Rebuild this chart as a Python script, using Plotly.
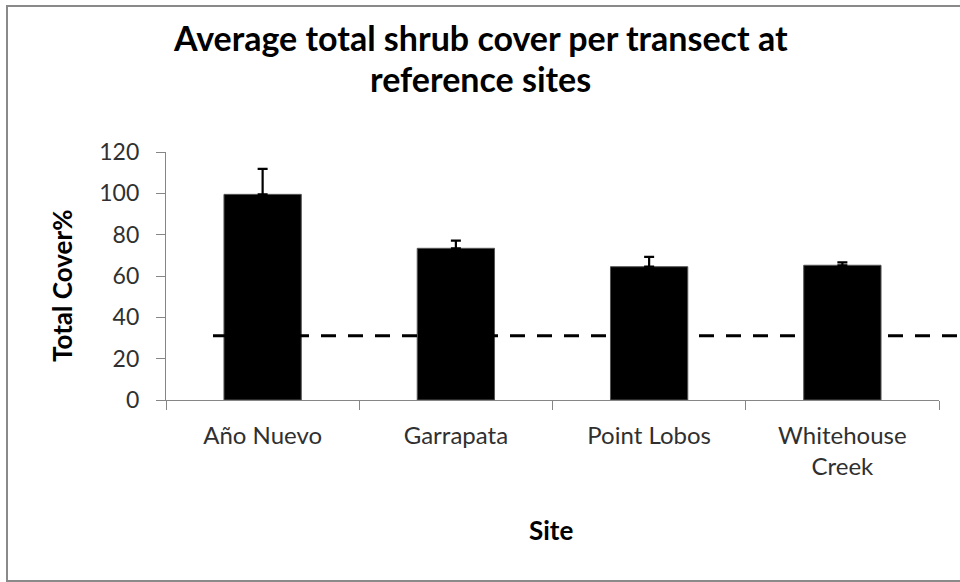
import plotly.graph_objects as go

sites = ["Año Nuevo", "Garrapata", "Point Lobos", "Whitehouse<br>Creek"]
cover = [99.5, 73.4, 64.5, 65.2]
cover_err = [12.3, 3.7, 4.8, 1.4]
reference_level = 31.1
y_ticks = [0, 20, 40, 60, 80, 100, 120]

FONT = "Lato, 'Open Sans', sans-serif"
AXIS_GREY = "#868686"

fig = go.Figure()
fig.add_trace(go.Bar(
    x=sites, y=cover,
    marker=dict(color="black", line=dict(color="#555555", width=1)),
    error_y=dict(type="data", array=cover_err, arrayminus=[0] * len(cover_err),
                 symmetric=False, color="black", thickness=2.2, width=5),
    showlegend=False,
))

fig.update_layout(
    width=960, height=582,
    margin=dict(l=166, r=21, t=152, b=182),
    paper_bgcolor="white", plot_bgcolor="white",
    bargap=0.6,
    font=dict(family=FONT, color="#404040"),
    xaxis=dict(
        type="category", showline=True, linecolor=AXIS_GREY, linewidth=1.3,
        ticks="outside", tickson="boundaries", ticklen=9, tickcolor=AXIS_GREY,
        tickwidth=1.3, tickfont=dict(size=24, color="#303030"),
        ticklabelstandoff=14, showgrid=False, zeroline=False,
    ),
    yaxis=dict(
        range=[0, 120], tickvals=y_ticks, showline=True, linecolor=AXIS_GREY,
        linewidth=1.3, ticks="outside", ticklen=9, tickcolor=AXIS_GREY,
        tickwidth=1.3, tickfont=dict(size=23, color="#303030"),
        ticklabelstandoff=12, showgrid=False, zeroline=False,
    ),
    shapes=[
        dict(type="line", xref="paper", yref="y", x0=0.0608, x1=1.04,
             y0=reference_level, y1=reference_level,
             line=dict(color="black", width=3.2, dash="15px,12px")),
        dict(type="rect", xref="paper", yref="paper", x0=(7 - 166) / 773, x1=1.06,
             y0=(400 - 581) / 248, y1=(400 - 6) / 248,
             line=dict(color="#8a8a8a", width=2),
             fillcolor="rgba(0,0,0,0)", layer="below"),
    ],
    annotations=[
        dict(text="<b>Average total shrub cover per transect at</b>", xref="paper",
             yref="paper", x=(480 - 166) / 773, y=(400 - 37) / 248, showarrow=False,
             xanchor="center", yanchor="middle",
             font=dict(size=34, color="black", family=FONT)),
        dict(text="<b>reference sites</b>", xref="paper",
             yref="paper", x=(480 - 166) / 773, y=(400 - 79) / 248, showarrow=False,
             xanchor="center", yanchor="middle",
             font=dict(size=34, color="black", family=FONT)),
        dict(text="<b>Total Cover%</b>", xref="paper", yref="paper",
             x=(62 - 166) / 773, y=(400 - 286) / 248, textangle=-90,
             showarrow=False, xanchor="center", yanchor="middle",
             font=dict(size=26, color="black", family=FONT)),
        dict(text="<b>Site</b>", xref="paper", yref="paper",
             x=(551 - 166) / 773, y=(400 - 530) / 248,
             showarrow=False, xanchor="center", yanchor="middle",
             font=dict(size=26, color="black", family=FONT)),
    ],
)

fig.write_html("out.html",
               config={"displayModeBar": False},
               post_script="document.body.style.margin='0';document.body.style.overflow='hidden';")
